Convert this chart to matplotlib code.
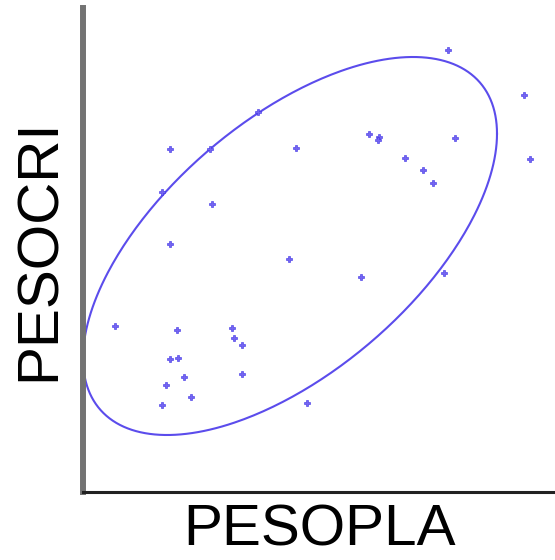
import numpy as np
import matplotlib
matplotlib.use("Agg")
import matplotlib.pyplot as plt

# values (arbitrary units, no tick labels shown)
pesopla = [366, 442, 448, 176, 88, 128, 214, 287, 297, 296, 373, 323, 341, 351,
           80, 130, 88, 207, 279, 362, 33, 95, 150, 152, 160, 88, 96, 102, 160,
           84, 109, 80, 225]
pesocri = [442, 397, 333, 380, 343, 343, 344, 358, 355, 352, 354, 334, 322, 309,
           300, 288, 248, 233, 215, 219, 166, 162, 164, 154, 147, 133, 134, 115,
           118, 107, 95, 87, 89]

# data ellipse: centre, half-extent along each axis, correlation
ell_center = (208, 246)
ell_half = (207, 189)
ell_corr = 0.594

point_color = "#7565f0"
line_color = "#5b4cec"


def ellipse_curve(center, half, corr, n=400):
    t = np.linspace(0, 2 * np.pi, n)
    phi = np.arccos(corr)
    x = center[0] + half[0] * np.cos(t)
    y = center[1] + half[1] * np.cos(t - phi)
    return x, y


fig = plt.figure(figsize=(5.55, 5.60), dpi=100)
ax = fig.add_axes([83 / 555, 1 - 492 / 560, 1 - 83 / 555, (492 - 8) / 560])

ex, ey = ellipse_curve(ell_center, ell_half, ell_corr)
ax.plot(ex, ey, color=line_color, linewidth=1.5, clip_on=False)
ax.plot(pesopla, pesocri, linestyle="none", marker="P", markersize=4.2,
        markerfacecolor=point_color, markeredgecolor="#3a2ee6", markeredgewidth=0.4)

ax.set_xlim(1, 473)
ax.set_ylim(0, 484)
ax.set_xticks([])
ax.set_yticks([])
ax.spines["top"].set_visible(False)
ax.spines["right"].set_visible(False)
ax.spines["left"].set_color("#737373")
ax.spines["left"].set_linewidth(4.3)
ax.spines["bottom"].set_color("#222222")
ax.spines["bottom"].set_linewidth(2.2)

font = ["Liberation Sans", "DejaVu Sans"]
ax.set_xlabel("PESOPLA", fontsize=42, family=font, labelpad=8)
ax.set_ylabel("PESOCRI", fontsize=42, family=font, labelpad=12)

fig.savefig("out.png", dpi=100)
